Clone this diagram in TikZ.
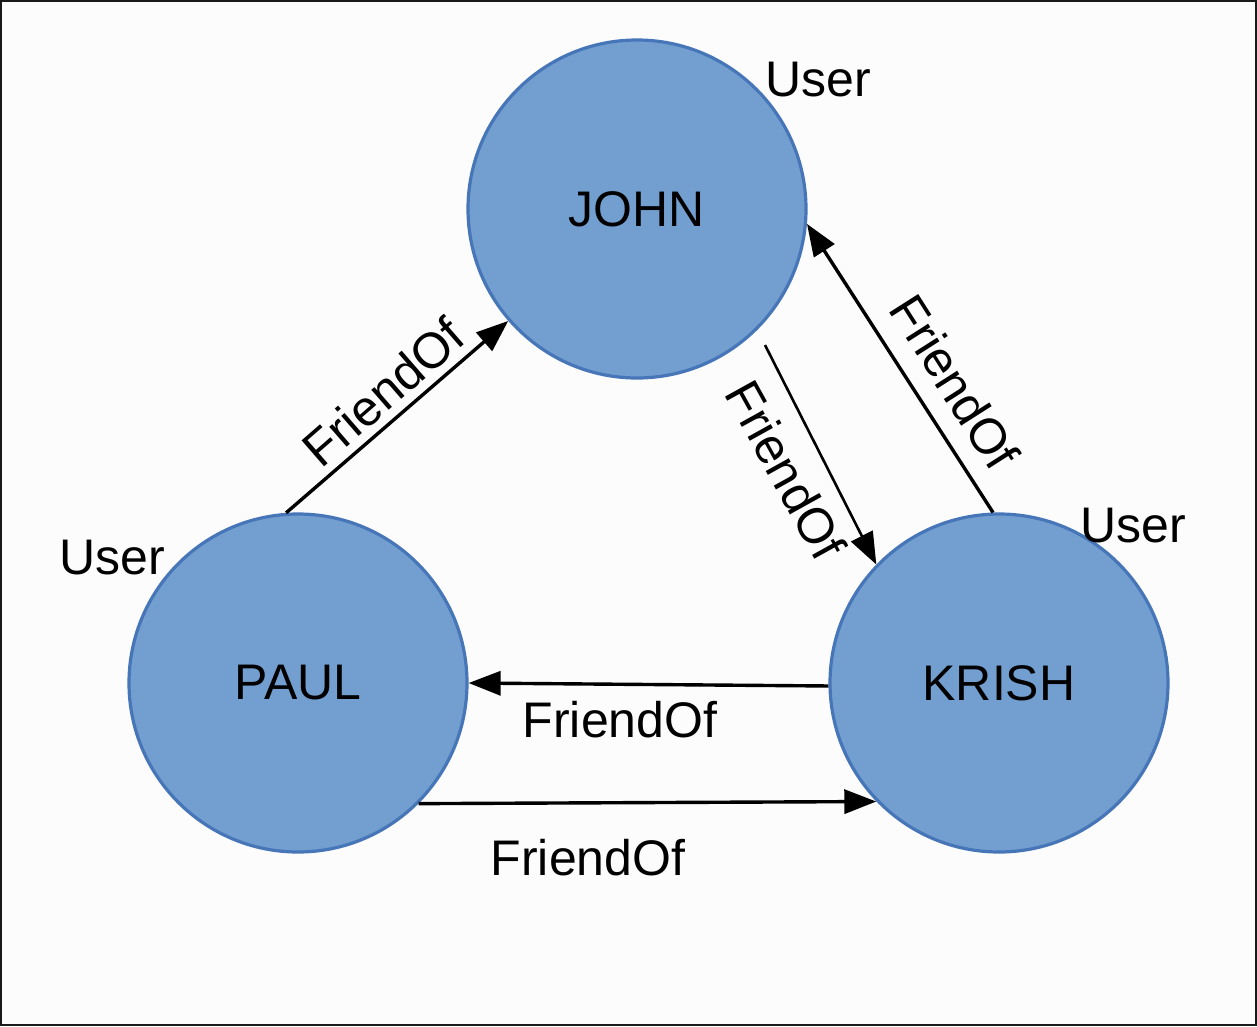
\documentclass[tikz,border=0pt]{standalone}
\usepackage{fontspec}
\setmainfont{Liberation Sans}
\usetikzlibrary{arrows.meta}
\definecolor{nodefill}{HTML}{729FCF}
\definecolor{nodeline}{HTML}{4676B8}
\definecolor{frameline}{HTML}{1A1A1A}
\definecolor{bgcol}{HTML}{FCFCFC}
\tikzset{
  usernode/.style={circle, fill=nodefill, draw=nodeline, line width=3.2pt, minimum size=338pt, inner sep=0pt, font=\fontsize{50}{60}\selectfont},
  lbl/.style={inner sep=0pt, font=\fontsize{50}{60}\selectfont},
  rel/.style={draw=black, line width=3.4pt, -{Triangle[length=32pt,width=24pt]}}
}
\begin{document}
\begin{tikzpicture}[x=1pt,y=-1pt]
\useasboundingbox (0,0) rectangle (1257,1026);
\fill[bgcol] (0,0) rectangle (1257,1026);
\draw[frameline, line width=2.5pt] (1.2,1.2) rectangle (1255.8,1024.8);

\node[usernode] (john) at (637,209) {JOHN};
\node[usernode] (paul) at (298,683) {PAUL};
\node[usernode] (krish) at (999,683) {KRISH};

\node[lbl] (ujohn) at (818,80) {User};
\node[lbl] (upaul) at (112,558) {User};
\node[lbl] (ukrish) at (1133,526) {User};

\coordinate (jstart) at (765,345);

\draw[rel] (paul.94) -- (john.221.6);
\draw[rel, line width=2.6pt] (jstart) -- (krish.136.2);
\draw[rel] (krish.92.3) -- (john.355.7);
\draw[rel] (krish.181.3) -- (paul.0.7);
\draw[rel] (paul.315) -- (krish.224.3);

\node[lbl, rotate=41] (l1) at (383,392) {FriendOf};
\node[lbl, rotate=-61] (l2) at (786,470) {FriendOf};
\node[lbl, rotate=-57.5] (l3) at (955,382) {FriendOf};
\node[lbl] (l4) at (620,720) {FriendOf};
\node[lbl] (l5) at (588,858) {FriendOf};
\end{tikzpicture}
\end{document}
